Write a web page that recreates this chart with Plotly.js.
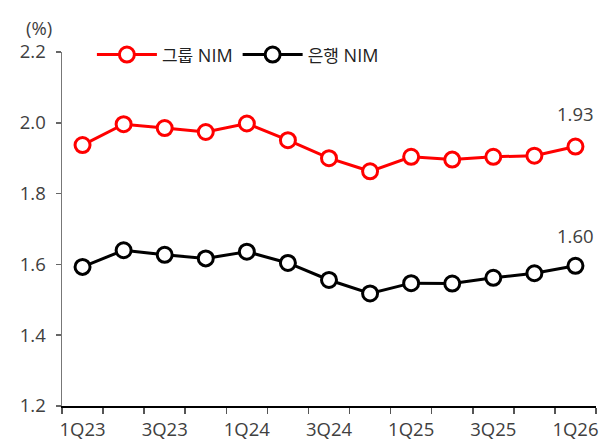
<!DOCTYPE html>
<html><head><meta charset="utf-8">
<script src="https://cdn.plot.ly/plotly-3.0.1.min.js"></script>
<style>html,body{margin:0;padding:0;background:#fff}#chart{width:615px;height:447px}</style>
</head><body><div id="chart"></div>
<script>
const categories = ["1Q23","2Q23","3Q23","4Q23","1Q24","2Q24","3Q24","4Q24","1Q25","2Q25","3Q25","4Q25","1Q26"];
const groupNIM = [1.937,1.996,1.985,1.974,1.998,1.951,1.900,1.863,1.904,1.896,1.904,1.907,1.933];
const bankNIM  = [1.593,1.640,1.627,1.617,1.636,1.604,1.556,1.518,1.547,1.546,1.562,1.575,1.596];
const groupKo = "그룹", bankKo = "은행", nimLabel = "NIM";
const yTicks = [1.2,1.4,1.6,1.8,2.0,2.2];

const idx = categories.map((c,i)=>i);
const labelIdx = idx.filter(i=>i%2===0);
const FONT = "'Open Sans', 'Noto Sans CJK KR', sans-serif";
const TXT = "#404040";
const FS = 18.5;

function legendName(ko){ return '<span style="font-size:17px">'+ko+'</span> '+nimLabel; }
function tr(name, y, color){
  return {x: idx, y: y, name: name, type:'scatter', mode:'lines+markers',
    line:{color:color, width:3},
    marker:{symbol:'circle', size:15, color:'#ffffff', line:{color:color, width:3}},
    cliponaxis:false, hoverinfo:'skip'};
}
const last = categories.length-1;
const layout = {
  width:615, height:447,
  margin:{l:62, r:19, t:52, b:41},
  paper_bgcolor:'#fff', plot_bgcolor:'#fff',
  font:{family:FONT, size:FS, color:TXT},
  showlegend:true,
  legend:{orientation:'h', x:0.056, xanchor:'left', y:0.992, yanchor:'middle',
    font:{family:FONT, size:18, color:'#222'}, bgcolor:'rgba(0,0,0,0)', itemwidth:60, tracegroupgap:0},
  xaxis:{type:'linear', range:[-0.5, categories.length-0.5], tickvals:labelIdx, ticktext:labelIdx.map(i=>categories[i]),
    ticks:'', showgrid:false, zeroline:false, showline:true, linecolor:'#000', linewidth:1.5,
    tickfont:{size:FS, color:TXT, family:FONT}, ticklabelstandoff:6,
    minor:{tick0:-0.5, dtick:1, ticks:'outside', ticklen:6, tickcolor:'#555', tickwidth:1.5, showgrid:false}},
  yaxis:{range:[1.2,2.2], tickvals:yTicks, ticktext:yTicks.map(v=>v.toFixed(1)), ticks:'outside', ticklen:5,
    tickcolor:'#666', tickwidth:1.5, showgrid:false, zeroline:false, showline:true, linecolor:'#777', linewidth:1.5,
    tickfont:{size:FS, color:TXT, family:FONT}, ticklabelstandoff:6},
  annotations:[
    {xref:'paper', yref:'paper', x:-0.043, y:1.0, yshift:25, xanchor:'center', yanchor:'middle', text:'(%)', showarrow:false,
      font:{size:FS, color:TXT, family:FONT}},
    {xref:'x', yref:'y', x:idx[last], y:groupNIM[last], yshift:33, yanchor:'middle', xanchor:'center',
      text:groupNIM[last].toFixed(2), showarrow:false, font:{size:FS, color:TXT, family:FONT}},
    {xref:'x', yref:'y', x:idx[last], y:bankNIM[last], yshift:30, yanchor:'middle', xanchor:'center',
      text:bankNIM[last].toFixed(2), showarrow:false, font:{size:FS, color:TXT, family:FONT}}
  ]
};
Plotly.newPlot('chart', [tr(legendName(groupKo), groupNIM, '#ff0000'), tr(legendName(bankKo), bankNIM, '#000000')], layout, {staticPlot:true, displayModeBar:false});
</script></body></html>
